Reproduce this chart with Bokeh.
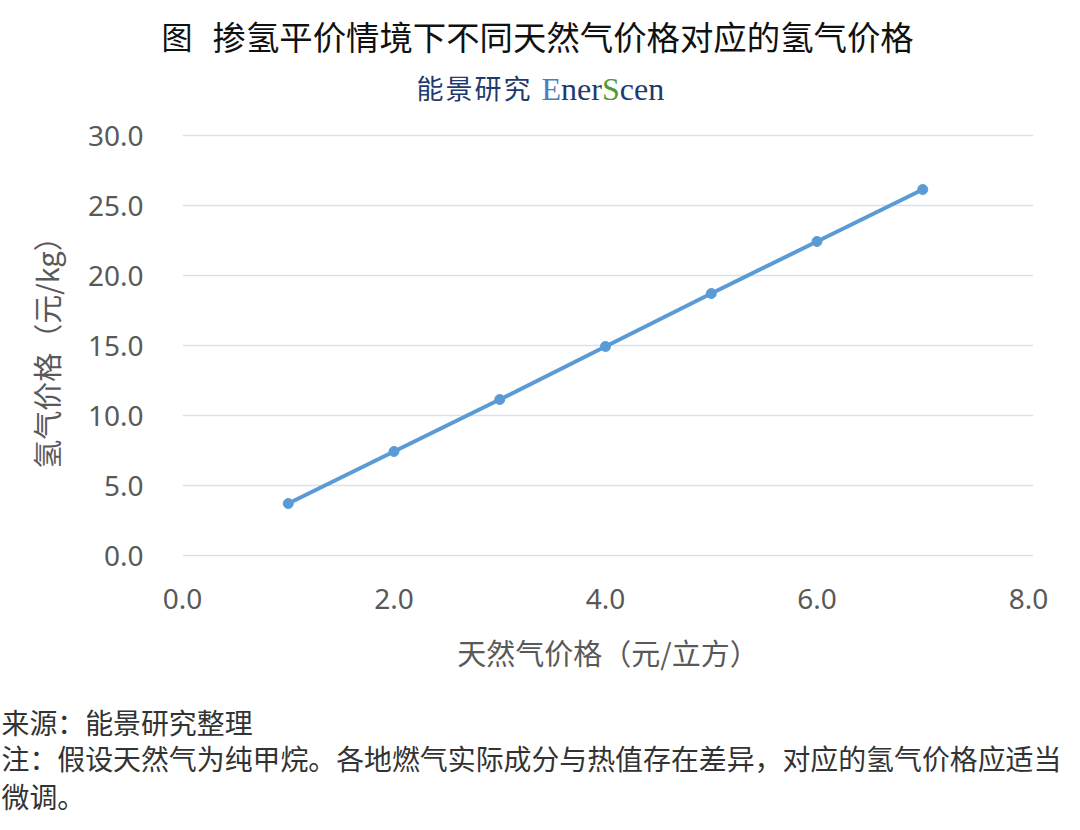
from bokeh.plotting import figure
from bokeh.layouts import column
from bokeh.models import Label, NumeralTickFormatter, FixedTicker, Range1d
from bokeh.embed import file_html
from bokeh.resources import INLINE

gas_price = [1, 2, 3, 4, 5, 6, 7]
h2_price = [3.71, 7.43, 11.14, 14.93, 18.71, 22.43, 26.14]
x_ticks = [0, 2, 4, 6, 8]
y_ticks = [0, 5, 10, 15, 20, 25, 30]

title_text = "掺氢平价情境下不同天然气价格对应的氢气价格"
x_title = "天然气价格（元/立方）"
y_title = "氢气价格（元/kg）"
source_text = "来源：能景研究整理"
note1 = "注：假设天然气为纯甲烷。各地燃气实际成分与热值存在差异，对应的氢气价格应适当"
note2 = "微调。"
logo_cn = ["能", "景", "研", "究"]
logo_en = [("E", "#4a7ebf"), ("ner", "#1f3a6e"), ("S", "#4e9a3a"), ("cen", "#1f3a6e")]

W = 1064
HEAD_H, MAIN_H, FOOT_H = 110, 580, 124


def blank_fig(h, y_top):
    f = figure(width=W, height=h, output_backend="svg", toolbar_location=None,
               x_range=Range1d(0, W), y_range=Range1d(y_top + h, y_top),
               min_border=0, min_border_left=0, min_border_right=0,
               min_border_top=0, min_border_bottom=0, frame_align=False)
    f.axis.visible = False
    f.grid.visible = False
    f.outline_line_color = None
    return f


def add_text(f, txt, px, py, size, color, font="Noto Sans CJK SC"):
    f.add_layout(Label(x=px, y=py, text=txt, text_font=font, text_font_size=size,
                       text_color=color, text_baseline="middle", text_align="left"))


# ---- header ----
head = blank_fig(HEAD_H, 0)
add_text(head, "图", 161, 35, "31px", "#111111")
add_text(head, title_text, 212, 35, "33.4px", "#111111")
for i, ch in enumerate(logo_cn):
    add_text(head, ch, 416 + 29 * i, 87, "27px", "#1f3a6e")
ex = 541
en_w = {"E": 19.6, "ner": 40.9, "S": 17.8, "cen": 44.5}
for t, c in logo_en:
    add_text(head, t, ex, 88, "32px", c, "Liberation Serif")
    ex += en_w[t]

# ---- main chart ----
FL, FR = 182, 1033
PX_X = (1028 - 182) / 8.0
PX_Y = 14.0
FT, FB = 133, 557  # page coords of frame
p = figure(width=W, height=MAIN_H, output_backend="svg", toolbar_location=None,
           x_range=Range1d(0, (FR - FL) / PX_X),
           y_range=Range1d(-(FB - 555) / PX_Y, 30 + (135 - FT) / PX_Y),
           min_border_left=FL, min_border_right=W - FR,
           min_border_top=FT - HEAD_H, min_border_bottom=HEAD_H + MAIN_H - FB,
           frame_align=False)
p.outline_line_color = None
p.background_fill_color = "white"

p.line(gas_price, h2_price, line_color="#5b9bd5", line_width=4)
p.scatter(gas_price, h2_price, size=10, fill_color="#5b9bd5", line_color="#5b9bd5")

p.xgrid.grid_line_color = None
p.ygrid.grid_line_color = "#d9e1f0"
p.ygrid.grid_line_width = 1.5

for ax in (p.xaxis[0], p.yaxis[0]):
    ax.axis_line_color = None
    ax.major_tick_line_color = None
    ax.minor_tick_line_color = None
    ax.major_tick_out = 0
    ax.major_tick_in = 0
    ax.major_label_text_font = "Noto Sans"
    ax.major_label_text_font_size = "28px"
    ax.major_label_text_color = "#595959"
    ax.axis_label_text_font = "Noto Sans CJK SC"
    ax.axis_label_text_font_size = "29px"
    ax.axis_label_text_font_style = "normal"
    ax.axis_label_text_color = "#595959"
    ax.formatter = NumeralTickFormatter(format="0.0")

p.xaxis.ticker = FixedTicker(ticks=x_ticks)
p.yaxis.ticker = FixedTicker(ticks=y_ticks)
p.xaxis.axis_label = x_title
p.yaxis.axis_label = y_title
p.xaxis.major_label_standoff = 31
p.yaxis.major_label_standoff = 39
p.xaxis.axis_label_standoff = 19
p.yaxis.axis_label_standoff = 18

# ---- footer ----
foot = blank_fig(FOOT_H, HEAD_H + MAIN_H)
add_text(foot, source_text, 1, 721, "27.9px", "#333333")
add_text(foot, note1, 1, 757, "27.9px", "#333333")
add_text(foot, note2, 1, 795, "27.9px", "#333333")

layout = column(head, p, foot, spacing=0)
open("out.html", "w").write(file_html(layout, INLINE))
